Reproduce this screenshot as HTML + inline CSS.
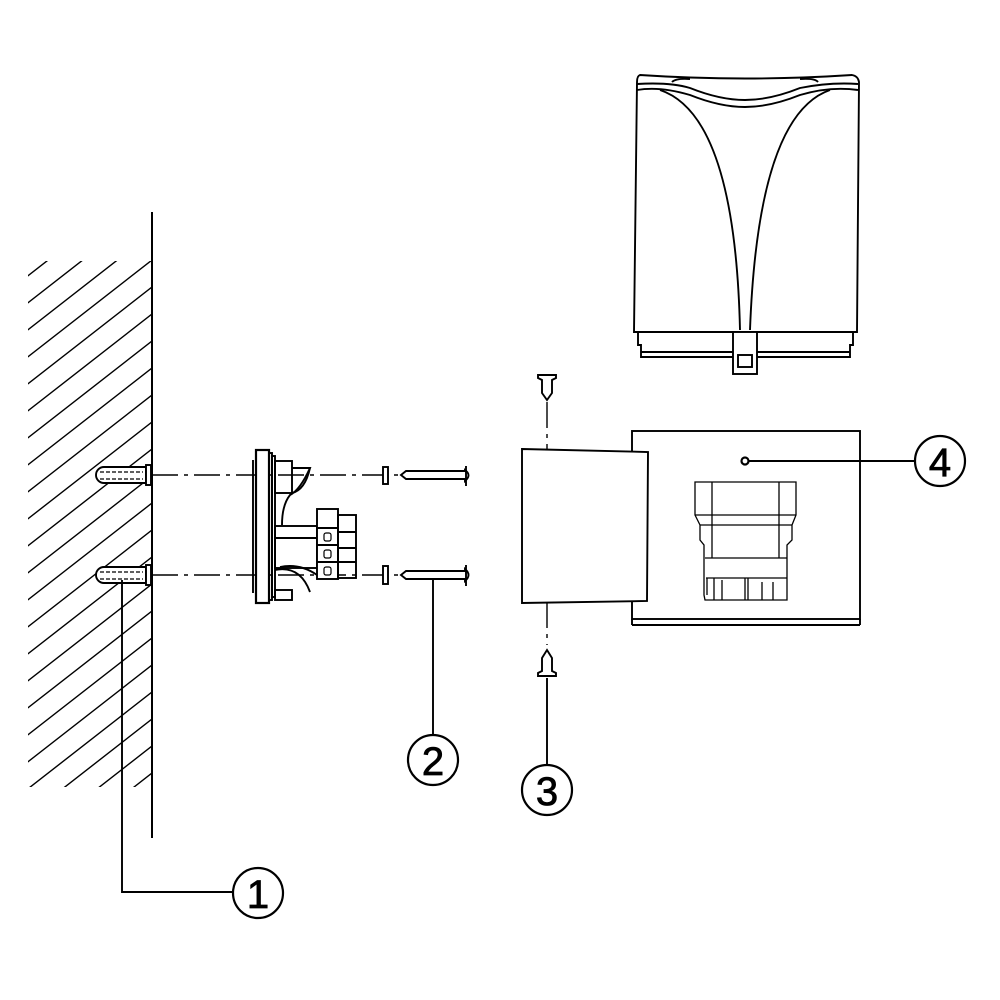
<!DOCTYPE html>
<html><head><meta charset="utf-8"><style>
html,body{margin:0;padding:0;background:#fff;width:1000px;height:1000px;overflow:hidden}
svg{display:block}
text{font-family:"Liberation Sans",sans-serif}
</style></head><body>
<svg width="1000" height="1000" viewBox="0 0 1000 1000" xmlns="http://www.w3.org/2000/svg">
<defs>
<clipPath id="hc"><rect x="28" y="261" width="124" height="526"/></clipPath>
</defs>
<g fill="none" stroke="#000" stroke-width="1.9">
<g clip-path="url(#hc)" stroke-width="1.4">
<line x1="-80" y1="360" x2="220" y2="126"/>
<line x1="-80" y1="387" x2="220" y2="153"/>
<line x1="-80" y1="414" x2="220" y2="180"/>
<line x1="-80" y1="441" x2="220" y2="207"/>
<line x1="-80" y1="468" x2="220" y2="234"/>
<line x1="-80" y1="495" x2="220" y2="261"/>
<line x1="-80" y1="522" x2="220" y2="288"/>
<line x1="-80" y1="549" x2="220" y2="315"/>
<line x1="-80" y1="576" x2="220" y2="342"/>
<line x1="-80" y1="603" x2="220" y2="369"/>
<line x1="-80" y1="630" x2="220" y2="396"/>
<line x1="-80" y1="657" x2="220" y2="423"/>
<line x1="-80" y1="684" x2="220" y2="450"/>
<line x1="-80" y1="711" x2="220" y2="477"/>
<line x1="-80" y1="738" x2="220" y2="504"/>
<line x1="-80" y1="765" x2="220" y2="531"/>
<line x1="-80" y1="792" x2="220" y2="558"/>
<line x1="-80" y1="819" x2="220" y2="585"/>
<line x1="-80" y1="846" x2="220" y2="612"/>
<line x1="-80" y1="873" x2="220" y2="639"/>
<line x1="-80" y1="900" x2="220" y2="666"/>
<line x1="-80" y1="927" x2="220" y2="693"/>
<line x1="-80" y1="954" x2="220" y2="720"/>
<line x1="-80" y1="981" x2="220" y2="747"/>
<line x1="-80" y1="1008" x2="220" y2="774"/>
<line x1="-80" y1="1035" x2="220" y2="801"/>
<line x1="-80" y1="1062" x2="220" y2="828"/>
</g>
<line x1="152" y1="212" x2="152" y2="838" stroke-width="2"/>
<g fill="#fff">
<path d="M146 467 H104 A8 8 0 0 0 104 483 H146 Z"/>
<rect x="146" y="465" width="5" height="20"/>
<path d="M146 567 H104 A8 8 0 0 0 104 583 H146 Z"/>
<rect x="146" y="565" width="5" height="20"/>
</g>
<g stroke-width="1.2" stroke-dasharray="4 2">
<line x1="100" y1="472" x2="143" y2="472"/><line x1="100" y1="479" x2="143" y2="479"/>
<line x1="100" y1="572" x2="143" y2="572"/><line x1="100" y1="579" x2="143" y2="579"/>
</g>
<g stroke-width="1.4" stroke-dasharray="26 6 4 6">
<line x1="152" y1="475" x2="400" y2="475"/>
<line x1="152" y1="575" x2="400" y2="575"/>
<line x1="547" y1="402" x2="547" y2="449"/>
<line x1="547" y1="602" x2="547" y2="645"/>
</g>
<rect x="383" y="467" width="5" height="17" fill="#fff"/>
<rect x="383" y="566" width="5" height="18" fill="#fff"/>
<path d="M401 475 L406 471 H465 V470 Q472 475 465 481 V479 H406 Z" fill="#fff"/>
<path d="M401 575 L406 571 H465 V569 Q472 575 465 581 V579 H406 Z" fill="#fff"/>
<line x1="466" y1="466" x2="466" y2="486"/><line x1="466" y1="565" x2="466" y2="586"/>
<rect x="256" y="450" width="13" height="153" fill="#fff" stroke-width="2.2"/>
<line x1="253" y1="460" x2="253" y2="593"/>
<rect x="269" y="453" width="3" height="147"/>
<rect x="272" y="456" width="3" height="141"/>
<rect x="275" y="461" width="17" height="32"/>
<path d="M292 468 H310 Q300 490 290 495 Q282 505 282 525"/>
<path d="M292 493 Q305 490 310 468"/>
<rect x="275" y="526" width="42" height="42"/>
<line x1="275" y1="538" x2="317" y2="538"/>
<path d="M275 570 Q300 565 310 592 M280 567 Q300 563 317 575"/>
<rect x="275" y="590" width="17" height="10"/>
<rect x="317" y="509" width="21" height="70" fill="#fff"/>
<line x1="317" y1="528" x2="338" y2="528"/><line x1="317" y1="545" x2="338" y2="545"/><line x1="317" y1="562" x2="338" y2="562"/>
<rect x="338" y="515" width="18" height="63"/>
<line x1="338" y1="532" x2="356" y2="532"/><line x1="338" y1="548" x2="356" y2="548"/><line x1="338" y1="562" x2="356" y2="562"/>
<g stroke-width="1.2"><rect x="324" y="533" width="7" height="8" rx="2"/><rect x="324" y="550" width="7" height="8" rx="2"/><rect x="324" y="567" width="7" height="8" rx="2"/></g>
<path d="M122 580 V892 H233"/>
<line x1="433" y1="580" x2="433" y2="735"/>
<line x1="547" y1="678" x2="547" y2="765"/>
<line x1="748" y1="461" x2="915" y2="461"/>
<circle cx="258" cy="893" r="25" stroke-width="2.2"/>
<circle cx="433" cy="760" r="25" stroke-width="2.2"/>
<circle cx="547" cy="790" r="25" stroke-width="2.2"/>
<circle cx="940" cy="461" r="25" stroke-width="2.2"/>
<path d="M538 375 H556 V378 L552 380 V393 L547 400 L542 393 V380 L538 378 Z" fill="#fff"/>
<path d="M538 676 H556 V673 L552 671 V658 L547 650 L542 658 V671 L538 673 Z" fill="#fff"/>
<rect x="632" y="431" width="228" height="188"/>
<line x1="632" y1="625" x2="860" y2="625"/>
<line x1="632" y1="619" x2="632" y2="625"/><line x1="860" y1="619" x2="860" y2="625"/>
<circle cx="745" cy="461" r="3.5" stroke-width="2.2"/>
<g stroke-width="1.3">
<path d="M695 482 H796 V515 L792 525 V540 L787 545 V600 H705 L704 595 V545 L700 540 V525 L695 515 Z"/>
<line x1="712" y1="482" x2="712" y2="558"/><line x1="779" y1="482" x2="779" y2="558"/>
<line x1="695" y1="515" x2="796" y2="515"/><line x1="700" y1="525" x2="792" y2="525"/>
<line x1="705" y1="558" x2="787" y2="558"/>
<path d="M706 578 H787 M707 578 V595 M714 578 V600 M722 580 V600 M745 578 V600 M748 578 V600 M762 582 V600 M773 582 V600"/>
</g>
<path d="M522 449 L648 452 L647 601 L522 603 Z" fill="#fff"/>
<path d="M640 75 Q745 82 852 75 Q858 76 859 82 L857 332 H634 L637 82 Q637 76 640 75 Z" fill="#fff"/>
<path d="M637 84 Q670 82 690 88 Q720 100 745 100 Q770 100 800 88 Q830 82 858 84"/>
<path d="M637 90 Q660 86 690 95 Q720 107 745 107 Q770 107 800 95 Q830 86 858 90"/>
<path d="M672 82 Q676 78 690 79 M818 82 Q815 78 800 79"/>
<path d="M660 90 Q735 115 740 330"/>
<path d="M830 90 Q758 115 750 330"/>
<path d="M638 332 V345 H641 V357 H850 V345 H853 V332"/>
<line x1="641" y1="352" x2="850" y2="352"/>
<rect x="733" y="332" width="24" height="42" fill="#fff"/>
<rect x="738" y="355" width="14" height="12"/>
</g>
<g font-size="40" text-anchor="middle" fill="#000" stroke="#000" stroke-width="0.8">
<text x="258" y="908">1</text>
<text x="433" y="775">2</text>
<text x="547" y="805">3</text>
<text x="940" y="476">4</text>
</g>
</svg>
</body></html>
